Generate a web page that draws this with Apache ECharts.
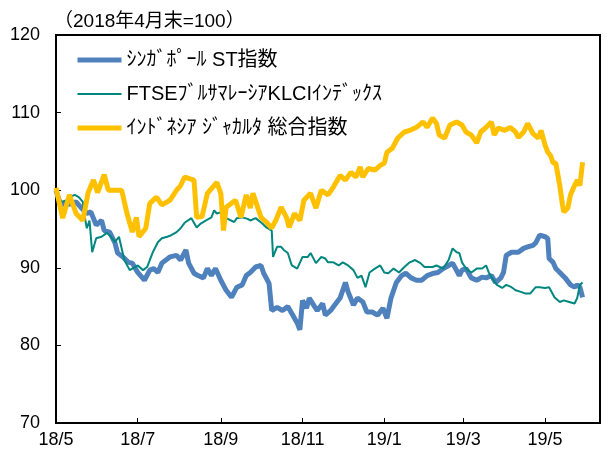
<!DOCTYPE html>
<html>
<head>
<meta charset="utf-8">
<script src="https://cdn.jsdelivr.net/npm/echarts@6/dist/echarts.min.js"></script>
<style>
  html, body { margin: 0; padding: 0; background: #fff; }
  #chart { width: 612px; height: 455px; }
</style>
</head>
<body>
<div id="chart"></div>
<script>
// 2018年4月末=100
const seriesNames = ['ｼﾝｶﾞﾎﾟｰﾙ ST指数', 'FTSEﾌﾞﾙｻﾏﾚｰｼｱKLCIｲﾝﾃﾞｯｸｽ', 'ｲﾝﾄﾞﾈｼｱ ｼﾞｬｶﾙﾀ 総合指数']
const xTickDates = ['2018-05-01', '2018-07-01', '2018-09-01', '2018-11-01', '2019-01-01', '2019-03-01', '2019-05-01']
const xRange = ['2018-05-01', '2019-06-11']
const yTicks = [70, 80, 90, 100, 110, 120]

const sgDates = ['2018-05-01','2018-05-04','2018-05-09','2018-05-13','2018-05-16','2018-05-20','2018-05-24','2018-05-27','2018-05-31','2018-06-04',
  '2018-06-06','2018-06-10','2018-06-14','2018-06-16','2018-06-20','2018-06-24','2018-06-27','2018-07-01','2018-07-06','2018-07-10',
  '2018-07-13','2018-07-16','2018-07-19','2018-07-25','2018-07-30','2018-08-02','2018-08-06','2018-08-08','2018-08-12','2018-08-15',
  '2018-08-19','2018-08-22','2018-08-25','2018-08-28','2018-09-01','2018-09-05','2018-09-09','2018-09-13','2018-09-17','2018-09-20',
  '2018-09-23','2018-09-27','2018-10-01','2018-10-03','2018-10-07','2018-10-09','2018-10-13','2018-10-17','2018-10-21','2018-10-24',
  '2018-10-28','2018-10-30','2018-11-01','2018-11-04','2018-11-06','2018-11-10','2018-11-12','2018-11-16','2018-11-18','2018-11-22',
  '2018-11-25','2018-11-29','2018-12-03','2018-12-05','2018-12-09','2018-12-12','2018-12-16','2018-12-19','2018-12-23','2018-12-27',
  '2018-12-31','2019-01-03','2019-01-06','2019-01-10','2019-01-14','2019-01-17','2019-01-21','2019-01-25','2019-01-29','2019-02-02',
  '2019-02-07','2019-02-10','2019-02-14','2019-02-18','2019-02-21','2019-02-26','2019-02-28','2019-03-03','2019-03-07','2019-03-11',
  '2019-03-15','2019-03-18','2019-03-22','2019-03-25','2019-03-29','2019-03-31','2019-04-02','2019-04-06','2019-04-11','2019-04-15',
  '2019-04-18','2019-04-22','2019-04-24','2019-04-27','2019-05-01','2019-05-03','2019-05-04','2019-05-07','2019-05-09','2019-05-12',
  '2019-05-16','2019-05-20','2019-05-23','2019-05-25','2019-05-27','2019-05-29']
const sgVals = [100,98.3,98.1,98.3,98.5,97.7,97,97.2,95.5,96.1,
  94.8,94.6,93.2,91.9,91.4,90.7,90.6,89.4,88.4,89.7,
  89.9,89.4,90.6,91.4,91.6,91,92.3,90.6,89.3,89,
  88.7,89.9,89,89.9,88.4,87.1,86.2,87.5,87.8,89,
  89.4,90.1,90.3,89.3,88,84.5,84.9,84.5,85,84.1,
  82.9,82,85.8,84.8,86.1,85,84.5,85.4,83.9,84.5,
  85.2,86.1,88.1,86.9,85.2,86.1,85.6,84.3,84.3,83.9,
  84.8,83.5,86.1,88.1,89,89.3,88.7,88.4,88.4,89,
  89.3,89.4,89.9,90.3,90.6,89,89.7,89.9,88.7,88.4,
  88.8,88.7,89,88.1,88.7,89.4,91.6,92,92,92.5,
  92.7,92.9,93.2,94.2,94,93.8,91.2,90.7,89.9,89.4,
  88.7,87.8,87.5,87.8,87.5,86.2]

const myDates = ['2018-05-01','2018-05-05','2018-05-09','2018-05-11','2018-05-15','2018-05-18','2018-05-21','2018-05-22','2018-05-24','2018-05-26',
  '2018-05-28','2018-05-31','2018-06-04','2018-06-08','2018-06-11','2018-06-14','2018-06-17','2018-06-21','2018-06-25','2018-06-29',
  '2018-07-01','2018-07-05','2018-07-08','2018-07-10','2018-07-12','2018-07-16','2018-07-19','2018-07-23','2018-07-26','2018-07-30',
  '2018-08-02','2018-08-05','2018-08-10','2018-08-14','2018-08-17','2018-08-21','2018-08-25','2018-08-27','2018-08-29','2018-09-02',
  '2018-09-05','2018-09-11','2018-09-13','2018-09-17','2018-09-21','2018-09-23','2018-09-27','2018-10-02','2018-10-05','2018-10-09',
  '2018-10-10','2018-10-13','2018-10-16','2018-10-18','2018-10-21','2018-10-24','2018-10-28','2018-11-01','2018-11-05','2018-11-07',
  '2018-11-11','2018-11-15','2018-11-18','2018-11-20','2018-11-24','2018-11-28','2018-12-01','2018-12-05','2018-12-09','2018-12-12',
  '2018-12-15','2018-12-18','2018-12-21','2018-12-25','2018-12-29','2019-01-01','2019-01-04','2019-01-08','2019-01-12','2019-01-16',
  '2019-01-20','2019-01-24','2019-01-28','2019-01-31','2019-02-06','2019-02-09','2019-02-14','2019-02-18','2019-02-21','2019-02-24',
  '2019-02-26','2019-02-28','2019-03-03','2019-03-07','2019-03-11','2019-03-15','2019-03-18','2019-03-20','2019-03-22','2019-03-26',
  '2019-03-30','2019-04-02','2019-04-06','2019-04-09','2019-04-13','2019-04-16','2019-04-20','2019-04-24','2019-04-27','2019-05-01',
  '2019-05-04','2019-05-08','2019-05-12','2019-05-15','2019-05-19','2019-05-23','2019-05-25','2019-05-27','2019-05-29']
const myVals = [100,98.5,98.7,99.1,99.4,99.1,98.5,97,95.1,96.1,
  92,93.8,94,94.5,94,93.3,94,91,89.7,90.1,
  90.3,89.7,90.1,91,91.9,93.3,93.8,94,94.2,94.6,
  95.1,95.8,96.4,95.2,95.7,96.1,96.5,97.4,97,97.2,
  96.4,95.9,96.4,96.5,96.3,96.1,96.4,95.7,95.2,94.8,
  91.4,92.7,92.7,92.3,91.9,90.3,89.9,91.4,91.4,91.9,
  90.6,91.4,91.2,90.7,90.7,90.3,90.7,90.3,89.7,88.7,
  89,87.5,89.4,89.9,90.3,89.4,89.3,89.9,89.4,90.1,
  90.7,91,90.6,90.1,90.1,90.3,89.9,91,92.5,92,
  91.9,90.7,89.9,89.4,89.9,89.9,90.3,89.4,88.8,87.8,
  87.4,87.8,87.5,87.1,86.9,86.7,86.7,87.5,87.5,87.4,
  87.5,86.2,85.6,85.8,85.6,85.4,86.1,87.8,88.1]

const idDates = ['2018-05-01','2018-05-06','2018-05-11','2018-05-16','2018-05-21','2018-05-25','2018-05-29','2018-06-01','2018-06-06','2018-06-09',
  '2018-06-19','2018-06-23','2018-06-27','2018-06-30','2018-07-02','2018-07-07','2018-07-10','2018-07-15','2018-07-19','2018-07-25',
  '2018-07-30','2018-08-02','2018-08-05','2018-08-12','2018-08-14','2018-08-18','2018-08-22','2018-08-29','2018-09-01','2018-09-03',
  '2018-09-05','2018-09-12','2018-09-16','2018-09-20','2018-09-23','2018-09-25','2018-10-01','2018-10-05','2018-10-09','2018-10-12',
  '2018-10-16','2018-10-20','2018-10-22','2018-10-26','2018-10-30','2018-11-02','2018-11-07','2018-11-11','2018-11-15','2018-11-20',
  '2018-11-24','2018-11-29','2018-12-03','2018-12-07','2018-12-11','2018-12-14','2018-12-16','2018-12-20','2018-12-25','2018-12-29',
  '2019-01-01','2019-01-03','2019-01-07','2019-01-11','2019-01-16','2019-01-20','2019-01-25','2019-01-30','2019-02-02','2019-02-06',
  '2019-02-09','2019-02-11','2019-02-15','2019-02-19','2019-02-24','2019-02-28','2019-03-03','2019-03-07','2019-03-11','2019-03-14',
  '2019-03-18','2019-03-22','2019-03-24','2019-03-27','2019-04-01','2019-04-05','2019-04-09','2019-04-11','2019-04-15','2019-04-18',
  '2019-04-22','2019-04-26','2019-04-28','2019-05-01','2019-05-03','2019-05-05','2019-05-07','2019-05-09','2019-05-12','2019-05-14',
  '2019-05-15','2019-05-18','2019-05-20','2019-05-23','2019-05-25','2019-05-27','2019-05-29']
const idVals = [100.3,96.4,99.4,97,96.1,99.7,101.3,99.7,102,100,
  100,97,94.6,96.5,94,95.1,98.3,99.1,98.1,98.7,
  100,100.6,101.7,101.3,96.5,96.6,99.6,101,99.6,94.8,
  97.8,98.7,96.5,99.4,97.7,99.6,96.5,95.9,95.1,96.1,
  97.8,96.5,95.2,97,96.1,98.7,99.6,97.7,100,99.4,
  100.4,101.9,101.3,102.3,101.7,103,101.7,102.8,102.6,103.2,
  103.5,104.9,105.4,106.7,107.5,107.7,108.1,108.8,108.1,109.3,
  108.6,107.1,106.7,108.4,108.8,108.4,107.5,107.1,106.1,107.5,
  108.1,108.8,107.1,108,107.7,108.1,107.5,106.8,107.5,108.6,
  107.3,106.7,107.7,105.8,104.9,104.5,103.5,103.5,100.6,98.1,
  97.2,97.7,99.4,100.6,101.3,100.6,103.6]

const colors = ['#4f81bd', '#00877f', '#ffc000']
const lineWidths = [5, 2, 5]

function ts(d) {
  return new Date(d + 'T00:00:00').getTime()
}
function pairs(dates, vals) {
  return dates.map((d, i) => [ts(d), vals[i]])
}

const fontFamily = '"Liberation Sans", "Noto Sans CJK JP", sans-serif'
const xTickValues = xTickDates.map(ts)

const option = {
  animation: false,
  textStyle: { fontFamily: fontFamily },
  title: {
    text: '（2018年4月末=100）',
    left: 49,
    top: 7,
    textStyle: { fontSize: 19, fontWeight: 'normal', color: '#000', fontFamily: fontFamily }
  },
  legend: {
    orient: 'vertical',
    left: 75,
    top: 50,
    padding: 0,
    itemWidth: 44,
    itemHeight: 14,
    itemGap: 14,
    data: seriesNames.map((name, i) => ({ name: name, lineStyle: { width: lineWidths[i] } })),
    itemStyle: { opacity: 0 },
    textStyle: { fontSize: 20, color: '#000', fontFamily: fontFamily }
  },
  grid: {
    left: 56,
    right: 12,
    top: 35,
    bottom: 32,
    show: true,
    borderColor: '#000',
    borderWidth: 2
  },
  xAxis: {
    type: 'value',
    min: ts(xRange[0]),
    max: ts(xRange[1]),
    axisLine: { lineStyle: { color: '#000', width: 2 } },
    axisTick: { inside: true, length: 5, customValues: xTickValues, lineStyle: { color: '#000' } },
    splitLine: { show: false },
    axisLabel: {
      customValues: xTickValues,
      color: '#000',
      fontSize: 18,
      margin: 8,
      formatter: function (v) {
        const d = new Date(v)
        return (d.getFullYear() % 100) + '/' + (d.getMonth() + 1)
      }
    }
  },
  yAxis: {
    type: 'value',
    min: yTicks[0],
    max: yTicks[yTicks.length - 1],
    interval: 10,
    axisLine: { show: true, lineStyle: { color: '#000', width: 2 } },
    axisTick: { show: true, inside: true, length: 5, lineStyle: { color: '#000' } },
    splitLine: { show: false },
    axisLabel: { color: '#000', fontSize: 18, margin: 16 }
  },
  series: [
    {
      name: seriesNames[0],
      type: 'line',
      symbol: 'none',
      data: pairs(sgDates, sgVals),
      lineStyle: { color: colors[0], width: lineWidths[0] },
      itemStyle: { color: colors[0] }
    },
    {
      name: seriesNames[1],
      type: 'line',
      symbol: 'none',
      data: pairs(myDates, myVals),
      lineStyle: { color: colors[1], width: lineWidths[1] },
      itemStyle: { color: colors[1] }
    },
    {
      name: seriesNames[2],
      type: 'line',
      symbol: 'none',
      data: pairs(idDates, idVals),
      lineStyle: { color: colors[2], width: lineWidths[2] },
      itemStyle: { color: colors[2] }
    }
  ]
}

const myChart = echarts.init(document.getElementById('chart'))
myChart.setOption(option)
</script>
</body>
</html>
